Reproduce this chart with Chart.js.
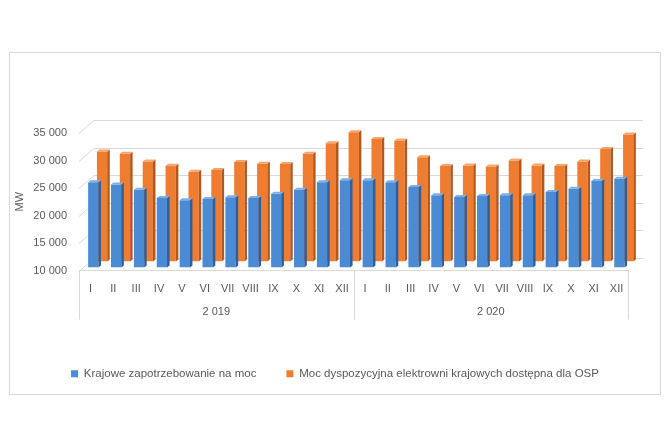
<!DOCTYPE html>
<html lang="pl">
<head>
<meta charset="utf-8">
<title>Krajowe zapotrzebowanie na moc</title>
<script src="https://cdn.jsdelivr.net/npm/chart.js@4.4.1/dist/chart.umd.min.js"></script>
<style>
  html, body { margin: 0; padding: 0; background: #fff; }
  .frame { position: absolute; left: 9px; top: 52px; width: 650px; height: 341px; border: 1px solid #d9d9d9; }
  canvas { display: block; }
</style>
</head>
<body>
<div class="frame"><canvas id="powerChart" width="650" height="341"></canvas></div>
<script>
const months = ['I', 'II', 'III', 'IV', 'V', 'VI', 'VII', 'VIII', 'IX', 'X', 'XI', 'XII'];
const years = ['2 019', '2 020'];
const monthLabels = [...months, ...months];

// MW, Jan 2019 .. Dec 2020
const demand = [25500, 25100, 24150, 22650, 22250, 22470, 22780, 22650, 23430, 24150, 25500, 25850,
                25850, 25500, 24640, 23140, 22830, 23010, 23140, 23140, 23740, 24330, 25720, 26140];
const available = [30000, 29570, 28200, 27400, 26320, 26620, 28070, 27760, 27710, 29570, 31500, 33490,
                   32280, 31990, 28970, 27350, 27470, 27290, 28380, 27470, 27350, 28200, 30470, 33080];

const textColor = '#595959';
const lineColor = '#d9d9d9';
const font = { family: '"Liberation Sans", Arial, sans-serif', size: 11 };

const fmt = v => String(v).replace(/\B(?=(\d{3})+(?!\d))/g, ' ');

// fake 3D: shift each series back, then add a side and a top face to each column
const columns3d = {
  id: 'columns3d',
  beforeDatasetDraw(chart, args) {
    const ds = chart.data.datasets[args.index];
    chart.ctx.save();
    chart.ctx.translate(ds.shift.x, ds.shift.y);
  },
  afterDatasetDraw(chart, args) {
    const ds = chart.data.datasets[args.index];
    const ctx = chart.ctx;
    const d = 2.5, h = 2;
    args.meta.data.forEach(bar => {
      const { x, y, base, width } = bar.getProps(['x', 'y', 'base', 'width'], true);
      const l = x - width / 2, r = x + width / 2;
      ctx.fillStyle = ds.sideColor;
      ctx.beginPath();
      ctx.moveTo(r, y); ctx.lineTo(r + d, y - h); ctx.lineTo(r + d, base - h); ctx.lineTo(r, base);
      ctx.closePath(); ctx.fill();
      ctx.fillStyle = ds.topColor;
      ctx.beginPath();
      ctx.moveTo(l, y); ctx.lineTo(l + d, y - h); ctx.lineTo(r + d, y - h); ctx.lineTo(r, y);
      ctx.closePath(); ctx.fill();
    });
    ctx.restore();
  }
};

// gridlines on the back wall, with the slanted side wall
const backWall = {
  id: 'backWall',
  beforeDatasetsDraw(chart) {
    const { ctx, chartArea: a, scales: { y } } = chart;
    const wx = 15, wy = -13;
    ctx.save();
    ctx.strokeStyle = lineColor;
    ctx.lineWidth = 1;
    y.ticks.forEach(t => {
      const py = Math.round(y.getPixelForValue(t.value)) + 0.5;
      ctx.beginPath();
      ctx.moveTo(a.left, py);
      ctx.lineTo(a.left + wx, py + wy);
      ctx.lineTo(a.right + wx, py + wy);
      ctx.stroke();
    });
    ctx.restore();
  }
};

// box around the two-level category labels
const groupBox = {
  id: 'groupBox',
  afterDraw(chart) {
    const { ctx, chartArea: a, scales: { x, x2 } } = chart;
    const mid = (x.getPixelForValue(11) + x.getPixelForValue(12)) / 2;
    const bottom = x2.top + 26;
    ctx.save();
    ctx.strokeStyle = lineColor;
    ctx.lineWidth = 1;
    [a.left, mid, a.right].forEach(px => {
      const p = Math.round(px) + 0.5;
      ctx.beginPath();
      ctx.moveTo(p, a.bottom);
      ctx.lineTo(p, bottom);
      ctx.stroke();
    });
    ctx.restore();
  }
};

new Chart(document.getElementById('powerChart'), {
  type: 'bar',
  data: {
    labels: monthLabels,
    datasets: [
      { label: 'Krajowe zapotrzebowanie na moc', data: demand, base: 10000,
        backgroundColor: '#4a8bd3', sideColor: '#2d5f9c', topColor: '#7eb0e6', shift: { x: 8, y: -3 } },
      { label: 'Moc dyspozycyjna elektrowni krajowych dostępna dla OSP', data: available, base: 10000,
        backgroundColor: '#ee7d32', sideColor: '#b3581c', topColor: '#f5a56c', shift: { x: 6.5, y: -9 } }
    ]
  },
  options: {
    responsive: false,
    animation: false,
    layout: { padding: { left: 0, right: 0, top: 80, bottom: 4.5 } },
    datasets: { bar: { categoryPercentage: 0.9, barPercentage: 1, borderWidth: 0 } },
    plugins: {
      tooltip: { enabled: false },
      legend: {
        position: 'bottom',
        labels: { boxWidth: 7, boxHeight: 7, padding: 30, color: textColor, font: { ...font, size: 11.5 } }
      }
    },
    scales: {
      x: {
        grid: { display: false },
        border: { display: true, color: lineColor },
        ticks: { color: textColor, font, padding: 4, autoSkip: false, maxRotation: 0 },
        afterFit: s => { s.height = 23; }
      },
      x2: {
        type: 'category',
        labels: years,
        position: 'bottom',
        grid: { display: false },
        border: { display: false },
        ticks: { color: textColor, font, padding: 4 },
        afterFit: s => { s.height = 44.5; }
      },
      y: {
        min: 10000,
        max: 35000,
        beginAtZero: false,
        grid: { display: false, drawTicks: false },
        border: { display: false },
        ticks: { stepSize: 5000, padding: 12, color: textColor, font, callback: v => fmt(v) },
        title: { display: true, text: 'MW', color: textColor, font, padding: { top: 3, bottom: 0 } },
        afterFit: s => { s.width = 69; }
      },
      pad: {
        type: 'linear',
        position: 'right',
        grid: { display: false },
        border: { display: false },
        ticks: { display: false },
        afterFit: s => { s.width = 32; }
      }
    }
  },
  plugins: [backWall, columns3d, groupBox]
});
</script>
</body>
</html>
